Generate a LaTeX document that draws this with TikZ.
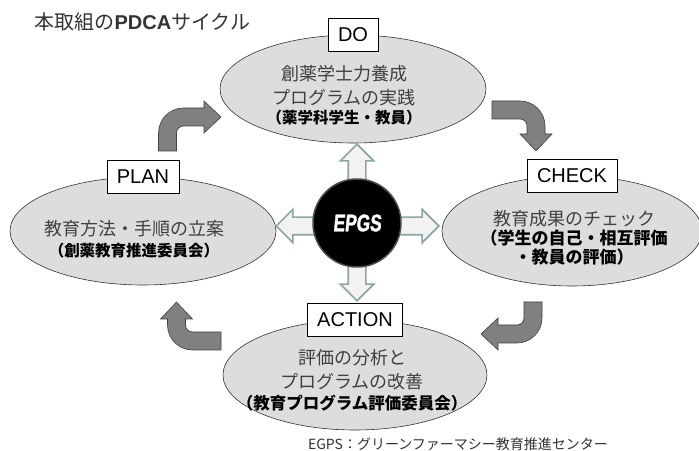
\documentclass[tikz,border=0pt]{standalone}
\usepackage{fontspec}
\setmainfont{Liberation Sans}
\newfontfamily\jpfont{Noto Sans CJK JP}
\newfontfamily\epgsfont{Liberation Sans Bold}[FakeStretch=0.72,FakeSlant=0.1,FakeBold=1.5]
\usepackage{tikz}
\usetikzlibrary{shapes.geometric,shapes.arrows,positioning}
\definecolor{ellgray}{RGB}{221,221,221}
\definecolor{hollowline}{RGB}{140,165,165}
\definecolor{hollowfill}{RGB}{242,242,242}
\definecolor{bentfill}{RGB}{128,128,128}
\newcommand{\grp}[2][15.5]{{\color{black}\bfseries\fontsize{#1}{19}\selectfont #2}}

\tikzset{
  phase/.style={ellipse, draw=black!80, fill=ellgray, line width=0.6pt,
    minimum width=266pt, minimum height=108pt, inner sep=0pt},
  body/.style={font=\jpfont\fontsize{18}{24}\selectfont, text=black!75,
    align=center, inner sep=0pt},
  tag/.style={draw=black, fill=white, line width=0.6pt,
    font=\fontsize{20}{20}\selectfont, minimum height=33pt, inner xsep=10pt},
  hollow/.style={single arrow, draw=hollowline, fill=hollowfill, line width=1.6pt,
    inner sep=8pt, single arrow head extend=8pt, minimum height=44pt},
  pics/bent/.style 2 args={code={
    \draw[draw=black!75, fill=bentfill, line width=0.6pt]
      (-9,0) -- (-9,#1) arc[start angle=180, end angle=90, radius=25]
      -- ++(#2,0) -- ++(0,7) -- ++(17,-16) -- ++(-17,-16) -- ++(0,7)
      -- ++(-#2,0) arc[start angle=90, end angle=180, radius=7]
      -- (9,0) -- cycle;
  }}
}

\begin{document}
\begin{tikzpicture}[x=1pt, y=1pt]
    \useasboundingbox[fill=white] (0,0) rectangle (699,450);

    % titulo
    \node[anchor=west, font=\jpfont\fontsize{20}{20}\selectfont, text=black!80] (title) at (31,428)
        {本取組の{\rmfamily\bfseries PDCA}サイクル};

    % las cuatro fases
    \node[phase] (doell) at (353,361) {};
    \node[phase, minimum width=260pt, minimum height=110pt] (checkell) at (572,219) {};
    \node[phase] (planell) at (143,219) {};
    \node[phase, minimum width=264pt, minimum height=110pt] (actell) at (355,75) {};

    \node[body] (dotxt) at (344,355) {創薬学士力養成\\プログラムの実践\\[-5pt]\grp{（薬学科学生・教員）}};
    \node[body] (checktxt) at (574,212) {教育成果のチェック\\[-5pt]\grp[17]{（学生の自己・相互評価}\\[-5pt]\grp[17]{・教員の評価）}};
    \node[body] (plantxt) at (134,211) {教育方法・手順の立案\\[-3pt]\grp{（創薬教育推進委員会）}};
    \node[body] (acttxt) at (352,70) {評価の分析と\\プログラムの改善\\[-3pt]\grp[16.5]{（教育プログラム評価委員会）}};

    \node[tag] (dotag) at (doell.north) {DO};
    \node[tag] (checktag) at (checkell.north) {CHECK};
    \node[tag] (plantag) at (planell.north) {PLAN};
    \node[tag] (acttag) at (actell.north) {ACTION};

    % flechas desde el centro
    \node[hollow, rotate=90, anchor=tip] (upar) at (357,307) {};
    \node[hollow, anchor=tip] (rightar) at (440,224) {};
    \node[hollow, rotate=180, anchor=tip] (leftar) at (275,224) {};
    \node[hollow, rotate=-90, anchor=tip] (downar) at (357,148) {};

    \node[circle, fill=black, draw=black!70, line width=1.5pt, minimum size=88pt,
        text=white, font=\epgsfont\fontsize{24}{24}\selectfont] (epgs) at (357,227) {EPGS};

    % flechas del ciclo
    \pic at (167.5,299) {bent={18}{20.5}};
    \pic[rotate=-90] at (492,340) {bent={28}{8}};
    \pic[rotate=180] at (533,148) {bent={16}{19}};
    \pic[rotate=90] at (221,109) {bent={28.5}{6}};

    % nota
    \node[font=\jpfont\fontsize{14}{14}\selectfont, text=black!80] (note) at (458,6)
        {EGPS：グリーンファーマシー教育推進センター};
\end{tikzpicture}
\end{document}
